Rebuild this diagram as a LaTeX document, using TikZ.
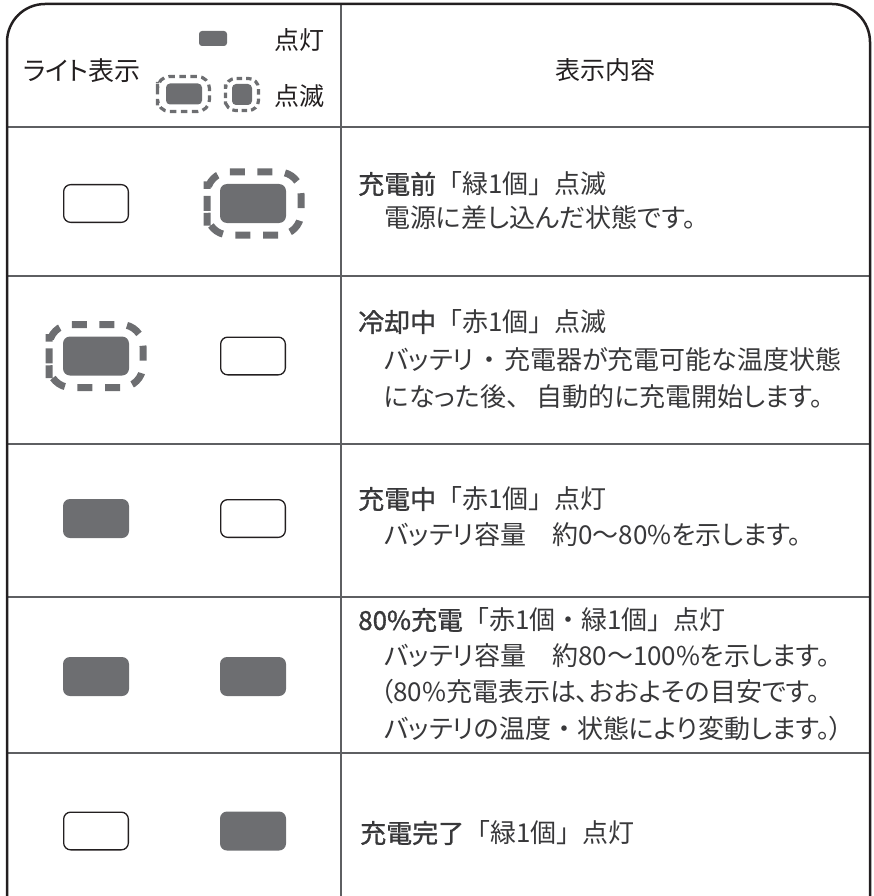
\documentclass[tikz,border=0pt]{standalone}
\usepackage{fontspec}
\setmainfont{Noto Sans CJK JP}
\newfontfamily\jpp[RawFeature=+palt]{Noto Sans CJK JP}
\newfontfamily\jpb[FakeBold=1.2]{Noto Sans CJK JP}
\definecolor{ink}{HTML}{231F20}
\definecolor{txt}{HTML}{38383A}
\definecolor{led}{HTML}{6D6E71}
\definecolor{rule}{HTML}{5E5F62}
\tikzset{
  frame/.style={draw=ink, line width=2.5pt, rounded corners=38pt},
  rowline/.style={draw=rule, line width=2pt},
  ledon/.style={rectangle, rounded corners=7pt, fill=led, draw=none,
    minimum width=66pt, minimum height=39pt, inner sep=0pt},
  ledoff/.style={rectangle, rounded corners=7pt, draw=ink, line width=1.3pt,
    fill=white, minimum width=64.7pt, minimum height=37.7pt, inner sep=0pt},
  ringbox/.style={rectangle, draw=none, inner sep=0pt, outer sep=0pt,
    minimum width=94pt, minimum height=63pt},
  ringline/.style={draw=led, line width=7pt, rounded corners=22pt,
    dash pattern=on 15pt off 12.64pt, dash phase=7.5pt},
  smallring/.style={draw=led, line width=3.2pt, rounded corners=12pt,
    dash pattern=on 6.5pt off 4.46pt, dash phase=8.73pt},
  tinyring/.style={draw=led, line width=3.2pt, rounded corners=10pt,
    dash pattern=on 5.5pt off 3.9pt, dash phase=7.45pt},
  hd/.style={font=\fontsize{25}{25}\selectfont, text=ink, inner sep=0pt},
  body/.style={font=\fontsize{26}{26}\selectfont, text=txt, anchor=west, inner sep=0pt},
}
\newcommand\ringaround[2]{\draw[#2] (#1.west) -- (#1.north west) -- (#1.north east)
  -- (#1.south east) -- (#1.south west) -- cycle;}
\begin{document}
\begin{tikzpicture}[x=1pt, y=-1pt]
\useasboundingbox (0,0) rectangle (873,896);
% table rules
\draw[rowline] (7,127) -- (870,127);
\draw[rowline] (7,276) -- (870,276);
\draw[rowline] (7,444) -- (870,444);
\draw[rowline] (7,597) -- (870,597);
\draw[rowline] (7,753) -- (870,753);
\draw[rowline] (341,4) -- (341,896);
\draw[frame] (7,896) -- (7,4) -- (870,4) -- (870,896);
% header
\node[hd, anchor=west, font=\fontsize{26}{26}\selectfont] (hlight) at (23,71) {\jpp ライト表示};
\node[hd] (hcontent) at (605,70) {表示内容};
\node[ledon, minimum width=28pt, minimum height=15pt, rounded corners=3pt] (lgon) at (213,38.5) {};
\node[hd, anchor=west] (lgontext) at (274,40) {点灯};
\node[ringbox, minimum width=52pt, minimum height=35pt] (lgring1) at (183.5,94) {};
\ringaround{lgring1}{smallring}
\node[ledon, minimum width=36pt, minimum height=21pt, rounded corners=4pt] (lgblink1) at (184,94) {};
\node[ringbox, minimum width=33pt, minimum height=32pt] (lgring2) at (242,94.5) {};
\ringaround{lgring2}{tinyring}
\node[ledon, minimum width=20pt, minimum height=21pt, rounded corners=4pt] (lgblink2) at (242,94.5) {};
\node[hd, anchor=west] (lgblinktext) at (274,96) {点滅};
% row 1
\node[ledoff] (l1a) at (96,203.5) {};
\node[ringbox] (ring1) at (254,203.5) {};
\ringaround{ring1}{ringline}
\node[ledon] (l1b) at (253,203.5) {};
\node[body] (t1a) at (358,184) {{\jpb 充電前}「緑1個」点滅};
\node[body] (t1b) at (384,218) {\jpp 電源に差し込んだ状態です。};
% row 2
\node[ringbox] (ring2) at (96,356) {};
\ringaround{ring2}{ringline}
\node[ledon] (l2a) at (96,356) {};
\node[ledoff] (l2b) at (253,356) {};
\node[body] (t2a) at (358,322) {{\jpb 冷却中}「赤1個」点滅};
\node[body] (t2b) at (384,360) {\jpp バッテリ\makebox[30pt]{・}充電器が充電可能な温度状態};
\node[body] (t2c) at (384,397) {\jpp になった後\makebox[30pt][l]{、}自動的に充電開始します。};
% row 3
\node[ledon] (l3a) at (96,518.5) {};
\node[ledoff] (l3b) at (253,518.5) {};
\node[body] (t3a) at (358,499) {{\jpb 充電中}「赤1個」点灯};
\node[body] (t3b) at (384,535) {\jpp バッテリ容量　約0〜80\%を示します。};
% row 4
\node[ledon] (l4a) at (96,676.5) {};
\node[ledon] (l4b) at (253,676.5) {};
\node[body] (t4a) at (358,620) {{\jpb 80\%充電}「赤1個・緑1個」点灯};
\node[body] (t4b) at (384,656) {\jpp バッテリ容量　約80〜100\%を示します。};
\node[body] (t4c) at (380,692) {\jpp （80\%充電表示は、おおよその目安です。};
\node[body] (t4d) at (384,729) {\jpp バッテリの温度\makebox[26pt]{・}状態により変動します。）};
% row 5
\node[ledoff] (l5a) at (96,831) {};
\node[ledon] (l5b) at (253,831) {};
\node[body] (t5a) at (360,833) {{\jpb 充電完了}「緑1個」点灯};
\end{tikzpicture}
\end{document}
